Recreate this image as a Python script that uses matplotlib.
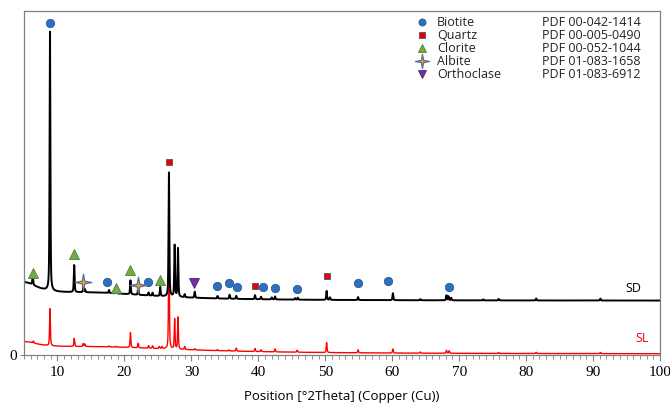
import numpy as np
import matplotlib
matplotlib.use("Agg")
import matplotlib.pyplot as plt
from matplotlib.path import Path

# peak lists: position (deg 2theta), height above background (counts)
sd_pos = [6.3, 8.88, 12.5, 13.85, 14.1, 17.7, 18.8, 20.9, 22.05, 23.6, 24.2, 25.35,
          26.65, 27.5, 28.0, 29.0, 30.5, 33.9, 35.7, 36.7, 39.5, 40.4, 42.0, 42.5,
          45.5, 45.9, 50.2, 50.7, 54.9, 60.1, 64.2, 68.1, 68.4, 68.8, 73.6, 75.9,
          81.5, 91.1]
sd_height = [90, 2590, 270, 45, 30, 30, 25, 140, 60, 30, 30, 90,
             1240, 515, 485, 30, 60, 25, 40, 30, 40, 25, 20, 30,
             15, 20, 90, 25, 30, 70, 12, 50, 40, 25, 10, 15,
             20, 20]

sl_pos = [6.4, 8.88, 12.5, 13.85, 14.1, 17.7, 18.8, 20.9, 22.05, 23.6, 24.2, 25.2,
          25.6, 26.65, 27.5, 28.0, 29.0, 30.5, 33.9, 35.6, 36.7, 39.5, 40.4, 42.5,
          45.8, 50.2, 54.9, 60.1, 64.2, 68.1, 68.5, 75.9, 81.5, 91.1]
sl_height = [20, 370, 80, 30, 25, 10, 8, 150, 45, 25, 25, 20,
             20, 1145, 300, 320, 30, 12, 10, 10, 30, 30, 20, 30,
             20, 100, 30, 40, 12, 30, 25, 10, 12, 12]

# background: flat level plus broad humps (centre, height, width)
sd_level = 543
sd_humps = [(5, 140, 2.5), (15, 75, 12)]
sl_level = 10
sl_humps = [(5, 70, 2.5), (15, 70, 18)]

# phase markers (2theta, counts)
phases = ["Biotite", "Quartz", "Clorite", "Albite", "Orthoclase"]
pdf_codes = ["PDF 00-042-1414", "PDF 00-005-0490", "PDF 00-052-1044",
             "PDF 01-083-1658", "PDF 01-083-6912"]
biotite_x = [8.9, 17.4, 23.5, 33.8, 35.6, 36.8, 40.7, 42.5, 45.8, 54.9, 59.4, 68.5]
biotite_y = [3320, 730, 730, 690, 720, 680, 680, 670, 660, 720, 740, 680]
quartz_x = [26.66, 39.5, 50.3]
quartz_y = [1930, 690, 790]
clorite_x = [6.3, 12.5, 18.8, 20.8, 25.3]
clorite_y = [820, 1010, 670, 850, 750]
albite_x = [13.8, 22.0]
albite_y = [730, 700]
orthoclase_x = [30.4]
orthoclase_y = [720]

tt = np.arange(5, 100.001, 0.01)


def pattern(pos, height, level, humps, fwhm=0.14):
    y = np.full_like(tt, float(level))
    for c, h, w in humps:
        y += h / (1 + ((tt - c) / w) ** 2)
    hw = fwhm / 2
    for p, h in zip(pos, height):
        lor = 1 / (1 + ((tt - p) / hw) ** 2)
        gau = np.exp(-np.log(2) * ((tt - p) / hw) ** 2)
        y += h * (0.5 * lor + 0.5 * gau)
    return y


sd = pattern(sd_pos, sd_height, sd_level, sd_humps)
sl = pattern(sl_pos, sl_height, sl_level, sl_humps)

# slim four-pointed star for albite
k = 0.16
star = Path([(0, 1), (k, k), (1, 0), (k, -k), (0, -1), (-k, -k), (-1, 0), (-k, k), (0, 1)],
            [Path.MOVETO] + [Path.LINETO] * 7 + [Path.CLOSEPOLY])

fig = plt.figure(figsize=(6.7, 4.03), dpi=100)
ax = fig.add_axes([24 / 670, 48 / 403, 636 / 670, 344 / 403])

ax.plot(tt, sl, color="#ff0000", lw=1.0)
ax.plot(tt, sd, color="black", lw=1.4)

styles = {
    "Biotite": dict(marker="o", ms=6, mfc="#2f6fc0", mec="#2a5a9a", mew=0.6),
    "Quartz": dict(marker="s", ms=5, mfc="#ee0000", mec="#44546a", mew=0.6),
    "Clorite": dict(marker="^", ms=7, mfc="#70ad47", mec="#507e32", mew=0.6),
    "Albite": dict(marker=star, ms=12, mfc="#f5a020", mec="#5a6f95", mew=0.9),
    "Orthoclase": dict(marker="v", ms=7, mfc="#7030a0", mec="#50207a", mew=0.6),
}
pts = {
    "Biotite": (biotite_x, biotite_y),
    "Quartz": (quartz_x, quartz_y),
    "Clorite": (clorite_x, clorite_y),
    "Albite": (albite_x, albite_y),
    "Orthoclase": (orthoclase_x, orthoclase_y),
}
for name in phases:
    px, py = pts[name]
    ax.plot(px, py, ls="", zorder=5, **styles[name])

# legend drawn by hand, no frame
for i, name in enumerate(phases):
    yy = 0.968 - i * 0.0378
    st = dict(styles[name])
    st["ms"] = st["ms"] * 0.85
    ax.plot([0.626], [yy], ls="", transform=ax.transAxes, clip_on=False, **st)
    ax.text(0.649, yy, name, transform=ax.transAxes, va="center", ha="left",
            fontsize=9, family="Open Sans", color="#222222")
    ax.text(0.815, yy, pdf_codes[i], transform=ax.transAxes, va="center", ha="left",
            fontsize=9, family="Open Sans", color="#222222")

ax.text(96, 670, "SD", ha="center", va="center", fontsize=9, family="Open Sans")
ax.text(97.3, 160, "SL", ha="center", va="center", fontsize=9, family="Open Sans", color="#ff0000")

ax.set_xlim(5, 100)
ax.set_ylim(0, 3440)
ax.set_xticks(np.arange(10, 101, 10))
ax.set_xticks(np.arange(5, 101, 1), minor=True)
ax.set_yticks([0])
for lab in ax.get_xticklabels() + ax.get_yticklabels():
    lab.set_family("Liberation Serif")
    lab.set_fontsize(11)
ax.tick_params(axis="x", which="major", length=4, width=0.8, color="#808080", pad=4)
ax.tick_params(axis="x", which="minor", length=3, width=0.6, color="#808080")
ax.tick_params(axis="y", length=3, width=0.8, color="#808080", pad=2)
for s in ax.spines.values():
    s.set_color("#808080")
    s.set_linewidth(0.9)

ax.set_xlabel("Position [°2Theta] (Copper (Cu))", fontsize=9.5, family="Open Sans", labelpad=8)

fig.savefig("out.png", dpi=100)
